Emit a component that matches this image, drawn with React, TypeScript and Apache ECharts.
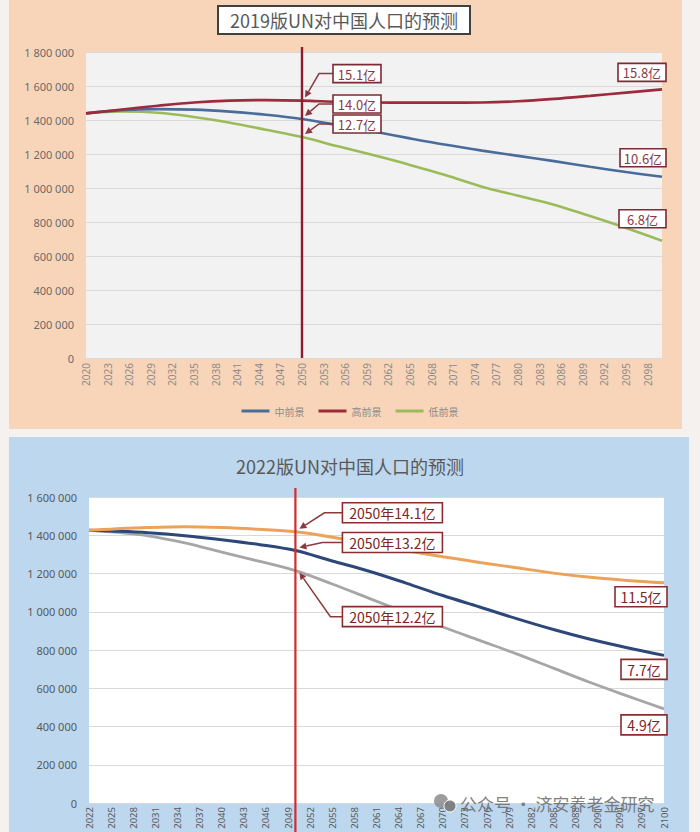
import React, { useEffect, useRef } from "react";
import * as echarts from "echarts";

// ---------- DATA ----------
// categories (every calendar year on the axis)
const years2019: string[] = Array.from({ length: 81 }, (_, i) => String(2020 + i));
const years2022: string[] = Array.from({ length: 79 }, (_, i) => String(2022 + i));

const sample2019 = ["2020", "2025", "2030", "2035", "2040", "2045", "2050", "2055", "2060", "2065", "2070", "2075", "2080", "2085", "2090", "2095", "2100"];
const medium2019 = [1439000, 1458000, 1464000, 1461000, 1449000, 1431000, 1406000, 1370000, 1332000, 1292000, 1254000, 1220000, 1189000, 1158000, 1125000, 1094000, 1066000];
const high2019 = [1439000, 1462000, 1484000, 1503000, 1514000, 1517000, 1514000, 1507000, 1503000, 1502000, 1502000, 1503000, 1510000, 1524000, 1542000, 1561000, 1580000];
const low2019 = [1439000, 1450000, 1443000, 1418000, 1384000, 1343000, 1300000, 1245000, 1192000, 1136000, 1075000, 1008000, 955000, 902000, 835000, 765000, 690000];

const sample2022 = ["2022", "2025", "2030", "2035", "2040", "2045", "2050", "2055", "2060", "2065", "2070", "2075", "2080", "2085", "2090", "2095", "2100"];
const high2022 = [1426000, 1432000, 1440000, 1444000, 1440000, 1431000, 1418000, 1390000, 1355000, 1320000, 1288000, 1258000, 1230000, 1202000, 1180000, 1164000, 1152000];
const medium2022 = [1426000, 1422000, 1413000, 1398000, 1377000, 1352000, 1320000, 1265000, 1212000, 1150000, 1085000, 1025000, 964000, 907000, 856000, 812000, 772000];
const low2022 = [1426000, 1418000, 1397000, 1360000, 1312000, 1265000, 1215000, 1145000, 1070000, 995000, 920000, 850000, 780000, 705000, 630000, 560000, 492000];

const seriesNames2019 = ["中前景", "高前景", "低前景"];
const labels2019Mid = ["15.1亿", "14.0亿", "12.7亿"];
const labels2019End = ["15.8亿", "10.6亿", "6.8亿"];
const labels2022Mid = ["2050年14.1亿", "2050年13.2亿", "2050年12.2亿"];
const labels2022End = ["11.5亿", "7.7亿", "4.9亿"];
const title2019 = "2019版UN对中国人口的预测";
const title2022 = "2022版UN对中国人口的预测";
const markYear = "2050";

// ---------- HELPERS ----------
const pairs = (xs: string[], vs: number[]) => xs.map((x, i) => [x, vs[i]]);
const fmt = (v: number) => String(v).replace(/\B(?=(\d{3})+(?!\d))/g, " ");
const FONT = "'Noto Sans', 'Noto Sans CJK SC', sans-serif";
const CJK = "'Noto Sans CJK SC', 'Noto Sans', sans-serif";

function textEl(x: number, y: number, text: string, fill: string, size: number, z = 120) {
  return {
    type: "text",
    z,
    style: {
      x,
      y,
      text,
      fill,
      font: `${size}px ${CJK}`,
      textAlign: "center",
      textVerticalAlign: "middle",
      align: "center",
      verticalAlign: "middle",
    },
  };
}

function boxLabel(cx: number, cy: number, w: number, h: number, text: string, stroke: string, fill: string, size: number) {
  return [
    {
      type: "rect",
      z: 110,
      shape: { x: cx - w / 2, y: cy - h / 2, width: w, height: h },
      style: { fill: "#ffffff", stroke, lineWidth: 1.6 },
    },
    textEl(cx, cy + 0.5, text, fill, size),
  ];
}

function leader(tip: number[], bend: number[], start: number[], color: string) {
  const dx = tip[0] - bend[0];
  const dy = tip[1] - bend[1];
  const len = Math.hypot(dx, dy) || 1;
  const ux = dx / len;
  const uy = dy / len;
  const L = 7;
  const W = 3.5;
  const bx = tip[0] - ux * L;
  const by = tip[1] - uy * L;
  return [
    {
      type: "polyline",
      z: 105,
      shape: { points: [start, bend, [bx, by]] },
      style: { stroke: color, lineWidth: 1.5, fill: null },
    },
    {
      type: "polygon",
      z: 105,
      shape: {
        points: [
          [tip[0], tip[1]],
          [bx - uy * W, by + ux * W],
          [bx + uy * W, by - ux * W],
        ],
      },
      style: { fill: color },
    },
  ];
}

function valueAt(xs: string[], vs: number[], year: string) {
  return vs[xs.indexOf(year)];
}

// ---------- OPTION ----------
function baseOption(): any {
  const axisLabelY = (color: string) => ({
    color,
    fontSize: 11,
    fontFamily: FONT,
    margin: 12,
    formatter: (v: number) => fmt(v),
  });
  return {
    animation: false,
    textStyle: { fontFamily: FONT },
    title: [
      {
        text: title2019,
        left: 218,
        top: 6,
        padding: [5, 12, 5, 12],
        backgroundColor: "#ffffff",
        borderColor: "#404040",
        borderWidth: 2,
        textStyle: { fontFamily: CJK, fontSize: 18, fontWeight: "normal", color: "#595959" },
      },
      {
        text: title2022,
        left: "center",
        top: 452,
        textStyle: { fontFamily: CJK, fontSize: 18, fontWeight: "normal", color: "#595959" },
      },
    ],
    legend: {
      data: seriesNames2019,
      left: "center",
      top: 401,
      icon: "rect",
      itemWidth: 28,
      itemHeight: 3,
      itemGap: 14,
      textStyle: { fontFamily: CJK, fontSize: 10, color: "#8c8c8c" },
    },
    grid: [
      { left: 86, right: 38, top: 52, height: 306, show: true, backgroundColor: "#f2f2f2", borderWidth: 0, outerBoundsMode: "none", containLabel: false },
      { left: 89, right: 36, top: 497, height: 306, show: true, backgroundColor: "#ffffff", borderWidth: 0, outerBoundsMode: "none", containLabel: false },
    ],
    xAxis: [
      {
        type: "category",
        gridIndex: 0,
        data: years2019,
        boundaryGap: false,
        axisLine: { show: false },
        axisTick: { show: false },
        axisLabel: { interval: 2, rotate: 90, fontSize: 10, color: "#8c8c8c", margin: 5 },
      },
      {
        type: "category",
        gridIndex: 1,
        data: years2022,
        boundaryGap: false,
        axisLine: { show: true, lineStyle: { color: "#d9d9d9" } },
        axisTick: { show: false },
        axisLabel: { interval: 2, rotate: 90, fontSize: 9.5, color: "#595959", margin: 4 },
      },
    ],
    yAxis: [
      {
        type: "value",
        gridIndex: 0,
        min: 0,
        max: 1800000,
        interval: 200000,
        axisLine: { show: false },
        axisTick: { show: false },
        splitLine: { lineStyle: { color: "#d9d9d9" } },
        axisLabel: axisLabelY("#6b6b6b"),
      },
      {
        type: "value",
        gridIndex: 1,
        min: 0,
        max: 1600000,
        interval: 200000,
        axisLine: { show: false },
        axisTick: { show: false },
        splitLine: { lineStyle: { color: "#d9d9d9" } },
        axisLabel: axisLabelY("#595959"),
      },
    ],
    series: [
      { name: seriesNames2019[2], type: "line", xAxisIndex: 0, yAxisIndex: 0, data: pairs(sample2019, low2019), smooth: 0.35, showSymbol: false, color: "#9bbb59", lineStyle: { width: 2.6, color: "#9bbb59" } },
      { name: seriesNames2019[0], type: "line", xAxisIndex: 0, yAxisIndex: 0, data: pairs(sample2019, medium2019), smooth: 0.35, showSymbol: false, color: "#4a6c9b", lineStyle: { width: 2.6, color: "#4a6c9b" } },
      { name: seriesNames2019[1], type: "line", xAxisIndex: 0, yAxisIndex: 0, data: pairs(sample2019, high2019), smooth: 0.35, showSymbol: false, color: "#9c2b3b", lineStyle: { width: 2.6, color: "#9c2b3b" } },
      { name: "低方案2022", type: "line", xAxisIndex: 1, yAxisIndex: 1, data: pairs(sample2022, low2022), smooth: 0.35, showSymbol: false, color: "#a6a6a6", lineStyle: { width: 2.8, color: "#a6a6a6" } },
      { name: "中方案2022", type: "line", xAxisIndex: 1, yAxisIndex: 1, data: pairs(sample2022, medium2022), smooth: 0.35, showSymbol: false, color: "#2c4778", lineStyle: { width: 3, color: "#2c4778" } },
      { name: "高方案2022", type: "line", xAxisIndex: 1, yAxisIndex: 1, data: pairs(sample2022, high2022), smooth: 0.35, showSymbol: false, color: "#eba35a", lineStyle: { width: 3, color: "#eba35a" } },
    ],
  };
}

function buildGraphics(chart: any): any[] {
  const g: any[] = [];
  const px0 = (year: string, v: number) =>
    chart.convertToPixel({ xAxisIndex: 0, yAxisIndex: 0 }, [years2019.indexOf(year), v]);
  const px1 = (year: string, v: number) =>
    chart.convertToPixel({ xAxisIndex: 1, yAxisIndex: 1 }, [years2022.indexOf(year), v]);

  // ----- top chart -----
  const topLineX = px0(markYear, 0)[0];
  const topBottom = px0(markYear, 0)[1];
  g.push({
    type: "line",
    z: 60,
    shape: { x1: topLineX, y1: topBottom - 311, x2: topLineX, y2: topBottom },
    style: { stroke: "#8e1b2e", lineWidth: 2.4 },
  });
  const c19 = "#8a3a46";
  const mids19 = [
    { v: valueAt(sample2019, high2019, markYear), dy: -27 },
    { v: valueAt(sample2019, medium2019, markYear), dy: -15 },
    { v: valueAt(sample2019, low2019, markYear), dy: -13 },
  ];
  mids19.forEach((m, i) => {
    const p = px0(markYear, m.v);
    const tip = [p[0] + 3, p[1] - 3];
    const cy = p[1] + m.dy;
    const left = topLineX + 31;
    g.push(...leader(tip, [left - 14, cy], [left, cy], c19));
    g.push(...boxLabel(left + 24, cy, 48, 18, labels2019Mid[i], "#7b2b35", c19, 13));
  });
  const ends19 = [
    { v: valueAt(sample2019, high2019, "2100"), top: -26, w: 48 },
    { v: valueAt(sample2019, medium2019, "2100"), top: -28, w: 46 },
    { v: valueAt(sample2019, low2019, "2100"), top: -31, w: 47 },
  ];
  ends19.forEach((e, i) => {
    const p = px0("2100", e.v);
    const right = p[0] + 4;
    g.push(...boxLabel(right - e.w / 2, p[1] + e.top + 9, e.w, 18, labels2019End[i], "#7b2b35", c19, 13));
  });

  // ----- bottom chart -----
  const botLineX = px1(markYear, 0)[0];
  const botBottom = px1(markYear, 0)[1];
  g.push({
    type: "line",
    z: 60,
    shape: { x1: botLineX, y1: botBottom - 315, x2: botLineX, y2: 832 },
    style: { stroke: "#d42b2b", lineWidth: 2.2 },
  });
  const c22 = "#7e2424";
  const mids22 = [
    { v: valueAt(sample2022, high2022, markYear), dy: -19, bend: -18 },
    { v: valueAt(sample2022, medium2022, markYear), dy: -8, bend: -20 },
    { v: valueAt(sample2022, low2022, markYear), dy: 46, bend: -12 },
  ];
  mids22.forEach((m, i) => {
    const p = px1(markYear, m.v);
    const tip = [p[0] + 4, p[1] + (i === 2 ? 2 : -3)];
    const cy = p[1] + m.dy;
    const left = botLineX + 47;
    g.push(...leader(tip, [left + m.bend, cy], [left, cy], "#8b3a3a"));
    g.push(...boxLabel(left + 50, cy, 100, 20, labels2022Mid[i], "#8b2d2d", c22, 14));
  });
  const ends22 = [
    { v: valueAt(sample2022, high2022, "2100"), top: 4, w: 52 },
    { v: valueAt(sample2022, medium2022, "2100"), top: 4, w: 46 },
    { v: valueAt(sample2022, low2022, "2100"), top: 6, w: 46 },
  ];
  ends22.forEach((e, i) => {
    const p = px1("2100", e.v);
    const right = p[0] + 3;
    g.push(...boxLabel(right - e.w / 2, p[1] + e.top + 10, e.w, 20, labels2022End[i], "#8b2d2d", c22, 14));
  });

  // ----- watermark -----
  g.push({ type: "circle", z: 130, shape: { cx: 441, cy: 801, r: 7 }, style: { fill: "rgba(140,140,140,0.85)" } });
  g.push({ type: "circle", z: 131, shape: { cx: 450, cy: 806, r: 6 }, style: { fill: "rgba(120,120,120,0.9)", stroke: "#ffffff", lineWidth: 1 } });
  g.push({
    type: "text",
    z: 130,
    style: {
      x: 460,
      y: 803,
      text: "公众号 · 济安养老金研究",
      fill: "rgba(110,110,110,0.9)",
      font: `17px ${CJK}`,
      textAlign: "left",
      align: "left",
      textVerticalAlign: "middle",
      verticalAlign: "middle",
    },
  });
  return g;
}

export default function App() {
  const ref = useRef<HTMLDivElement>(null);
  useEffect(() => {
    if (!ref.current) return;
    const chart = echarts.init(ref.current, null, { renderer: "svg" });
    chart.setOption(baseOption());
    chart.setOption({ graphic: buildGraphics(chart) });
    return () => chart.dispose();
  }, []);
  return (
    <div style={{ position: "fixed", left: 0, top: 0, width: 700, height: 832, background: "#f4f1ee", overflow: "hidden" }}>
      <div style={{ position: "absolute", left: 9, top: 0, width: 673, height: 429, background: "#f8d5b8" }} />
      <div style={{ position: "absolute", left: 9, top: 437, width: 680, height: 395, background: "#bdd7ee" }} />
      <div ref={ref} style={{ position: "absolute", left: 0, top: 0, width: 700, height: 832 }} />
    </div>
  );
}
